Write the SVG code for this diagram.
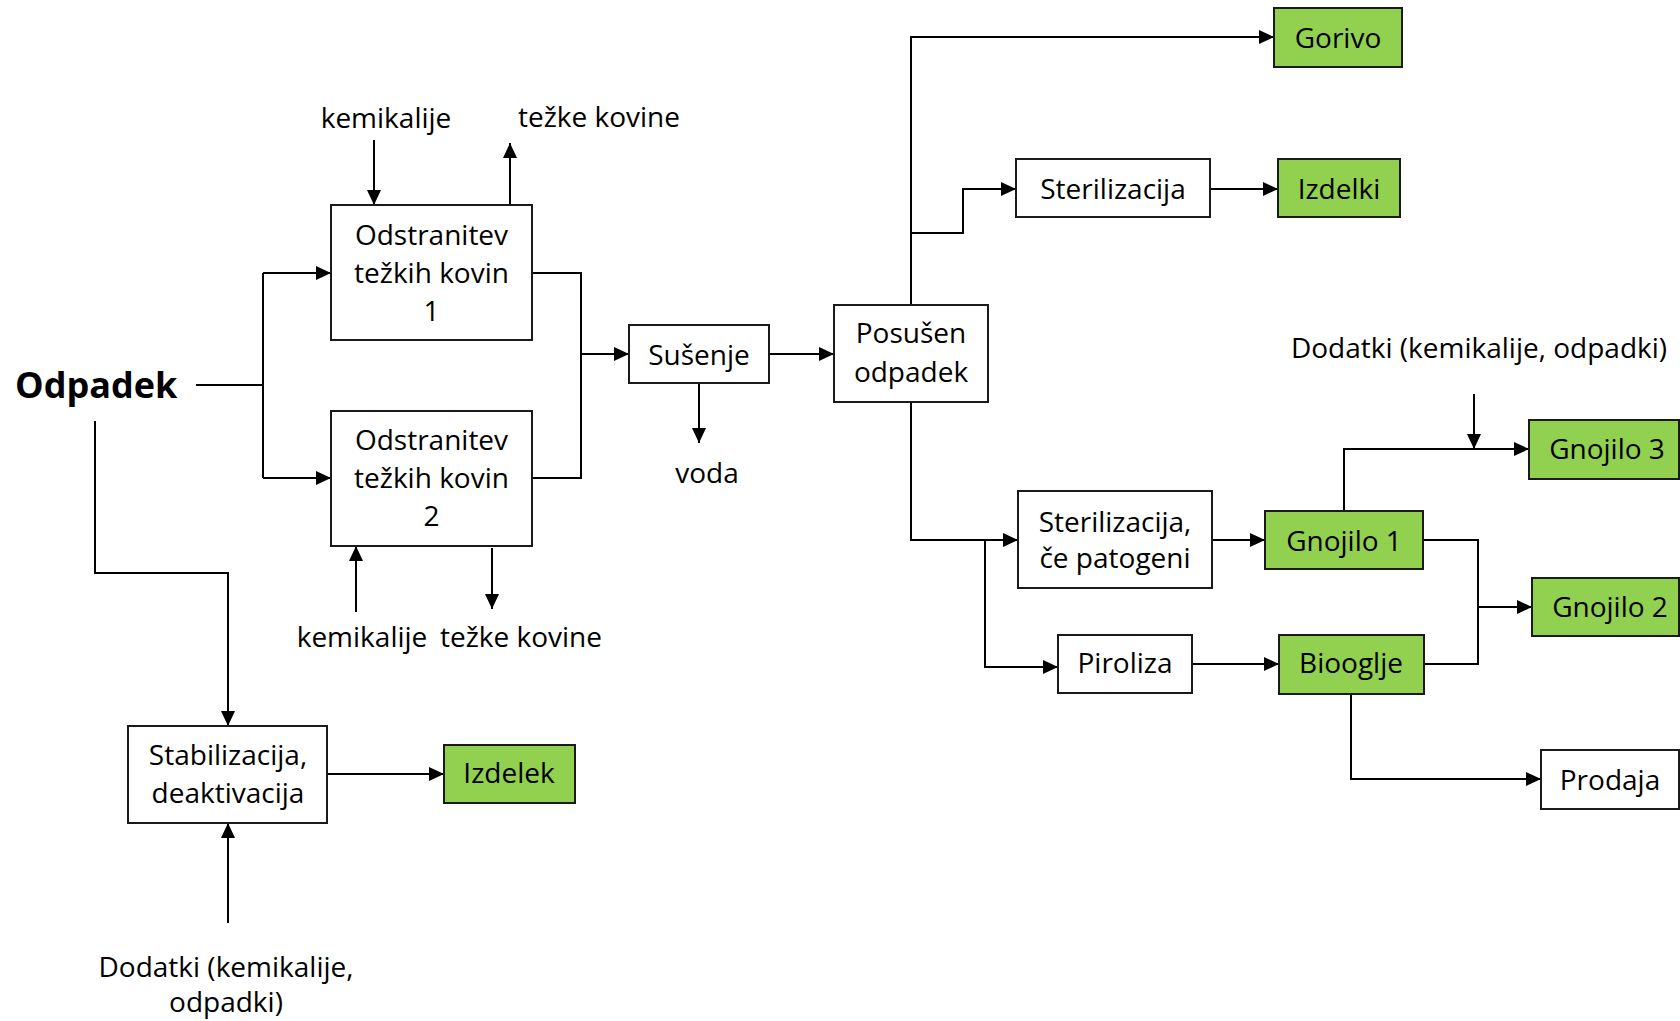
<svg xmlns="http://www.w3.org/2000/svg" width="1680" height="1021" viewBox="0 0 1680 1021">
<style>
text{font-family:"Open Sans","Noto Sans","Liberation Sans",sans-serif;font-size:28px;fill:#000;text-anchor:middle}
.box{fill:#fff;stroke:#1a1a1a;stroke-width:2}
.prod{fill:#92D050;stroke:#1a1a1a;stroke-width:2}
.ln{fill:none;stroke:#000;stroke-width:2}
.ar{fill:none;stroke:#000;stroke-width:2;marker-end:url(#ah)}
.big{font-weight:bold;font-size:36px;text-anchor:start}
</style>
<defs>
<marker id="ah" markerUnits="userSpaceOnUse" markerWidth="15" markerHeight="14" refX="15" refY="7" orient="auto">
<path d="M0,0 L15,7 L0,14 z" fill="#000"/>
</marker>
</defs>
<rect width="1680" height="1021" fill="#fff"/>
<g id="connectors">
<path class="ln" d="M196,385 H263"/>
<path class="ln" d="M263,273 V478"/>
<path class="ar" d="M263,273 H331"/>
<path class="ar" d="M263,478 H331"/>
<path class="ln" d="M532,273 H581 V478 H532"/>
<path class="ar" d="M581,354 H629"/>
<path class="ar" d="M374,140 V205"/>
<path class="ar" d="M510,205 V143"/>
<path class="ar" d="M356,612 V546"/>
<path class="ar" d="M492,548 V609"/>
<path class="ar" d="M699,383 V443"/>
<path class="ar" d="M769,354 H834"/>
<path class="ar" d="M911,305 V37 H1274"/>
<path class="ar" d="M911,233 H963 V189 H1016"/>
<path class="ar" d="M1210,189 H1278"/>
<path class="ar" d="M911,402 V540 H1018"/>
<path class="ar" d="M985,540 V667 H1058"/>
<path class="ar" d="M1192,664 H1279"/>
<path class="ar" d="M1212,540 H1265"/>
<path class="ar" d="M1344,511 V449 H1529"/>
<path class="ar" d="M1474,394 V449"/>
<path class="ln" d="M1423,540 H1478 V664 H1424"/>
<path class="ar" d="M1478,607 H1532"/>
<path class="ar" d="M1351,694 V779 H1541"/>
<path class="ar" d="M95,421 V573 H228 V726"/>
<path class="ar" d="M327,774 H444"/>
<path class="ar" d="M228,923 V823"/>
</g>
<g id="odpadek"><text class="big" x="15" y="398">Odpadek</text></g>
<g id="kem1"><text x="386" y="128">kemikalije</text></g>
<g id="tk1"><text x="599" y="127">težke kovine</text></g>
<g id="odstr1"><rect class="box" x="331" y="205" width="201" height="135"/>
<text x="431.5" y="245">Odstranitev</text><text x="431.5" y="283">težkih kovin</text><text x="431.5" y="321">1</text></g>
<g id="odstr2"><rect class="box" x="331" y="411" width="201" height="135"/>
<text x="431.5" y="450">Odstranitev</text><text x="431.5" y="488">težkih kovin</text><text x="431.5" y="526">2</text></g>
<g id="kem2"><text x="362" y="647">kemikalije</text></g>
<g id="tk2"><text x="521" y="647">težke kovine</text></g>
<g id="susenje"><rect class="box" x="629" y="325" width="140" height="58"/><text x="699" y="365">Sušenje</text></g>
<g id="voda"><text x="707" y="483">voda</text></g>
<g id="posusen"><rect class="box" x="834" y="305" width="154" height="97"/>
<text x="911" y="343">Posušen</text><text x="911" y="382">odpadek</text></g>
<g id="gorivo"><rect class="prod" x="1274" y="8" width="128" height="59"/><text x="1338" y="48">Gorivo</text></g>
<g id="steril1"><rect class="box" x="1016" y="159" width="194" height="58"/><text x="1113" y="199">Sterilizacija</text></g>
<g id="izdelki"><rect class="prod" x="1278" y="159" width="122" height="58"/><text x="1339" y="199">Izdelki</text></g>
<g id="dodatki1"><text x="1479" y="358">Dodatki (kemikalije, odpadki)</text></g>
<g id="steril2"><rect class="box" x="1018" y="491" width="194" height="97"/>
<text x="1115" y="532">Sterilizacija,</text><text x="1115" y="568">če patogeni</text></g>
<g id="gnojilo1"><rect class="prod" x="1265" y="511" width="158" height="58"/><text x="1344" y="551">Gnojilo 1</text></g>
<g id="gnojilo3"><rect class="prod" x="1529" y="420" width="150" height="59"/><text x="1607" y="459">Gnojilo 3</text></g>
<g id="gnojilo2"><rect class="prod" x="1532" y="578" width="147" height="58"/><text x="1610" y="617">Gnojilo 2</text></g>
<g id="piroliza"><rect class="box" x="1058" y="635" width="134" height="58"/><text x="1125" y="673">Piroliza</text></g>
<g id="biooglje"><rect class="prod" x="1279" y="635" width="145" height="59"/><text x="1351" y="673">Biooglje</text></g>
<g id="prodaja"><rect class="box" x="1541" y="750" width="138" height="59"/><text x="1610" y="790">Prodaja</text></g>
<g id="stabil"><rect class="box" x="128" y="726" width="199" height="97"/>
<text x="228" y="765">Stabilizacija,</text><text x="228" y="803">deaktivacija</text></g>
<g id="izdelek"><rect class="prod" x="444" y="745" width="131" height="58"/><text x="509" y="783">Izdelek</text></g>
<g id="dodatki2"><text x="226" y="977">Dodatki (kemikalije,</text><text x="226" y="1012">odpadki)</text></g>
</svg>
